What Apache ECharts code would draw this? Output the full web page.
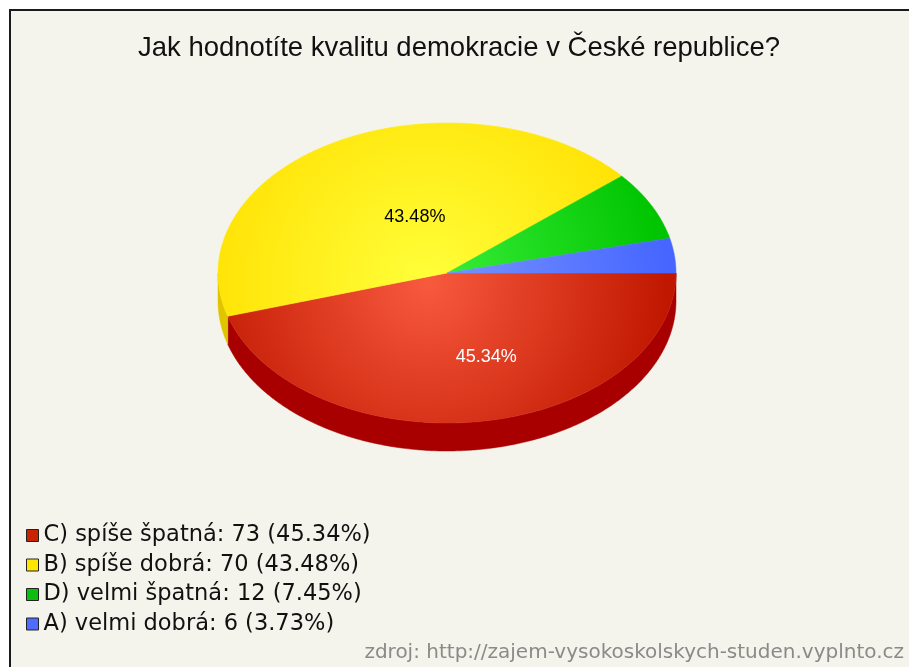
<!DOCTYPE html>
<html>
<head>
<meta charset="UTF-8">
<title>Jak hodnotíte kvalitu demokracie v České republice?</title>
<script src="https://cdn.jsdelivr.net/npm/echarts@6/dist/echarts.min.js"></script>
<style>
html, body { margin: 0; padding: 0; background: #fff; }
#chart { width: 909px; height: 667px; }
</style>
</head>
<body>
<div id="chart"></div>
<script>
// data
var categories = ['C) spíše špatná', 'B) spíše dobrá', 'D) velmi špatná', 'A) velmi dobrá'];
var counts = [73, 70, 12, 6];
var percents = ['45.34', '43.48', '7.45', '3.73'];

// colours: legend, top face (light, dark), side wall
var legendColors = ['#c82400', '#ffe600', '#0cbf0c', '#4f6cff'];
var topLight = ['#f85a3e', '#ffff3a', '#3cf03c', '#7a96ff'];
var topDark = ['#c01800', '#ffe000', '#00c400', '#4666ff'];
var sideColors = ['#a80000', '#e0c400', '#009400', '#2a40c8'];

var cx = 447, cy = 273, rx = 229, ry = 150, depth = 28;

var total = 0;
for (var i = 0; i < counts.length; i++) total += counts[i];

function rim(a, dy) {
    return [cx + rx * Math.cos(a), cy + ry * Math.sin(a) + (dy || 0)];
}

function arcPoints(a0, a1, dy) {
    var pts = [];
    var steps = Math.max(2, Math.ceil((a1 - a0) / 0.01));
    for (var k = 0; k <= steps; k++) {
        pts.push(rim(a0 + (a1 - a0) * k / steps, dy));
    }
    return pts;
}

function makeRender(idx) {
    return function (params, api) {
        var start = api.value(0), val = api.value(1);
        var a0 = start / total * Math.PI * 2;
        var a1 = (start + val) / total * Math.PI * 2;
        var children = [];

        // side wall, only the front half (0..PI) is visible
        var s0 = Math.max(a0, 0), s1 = Math.min(a1, Math.PI);
        if (s1 > s0) {
            var front = arcPoints(s0, s1, 0);
            var back = arcPoints(s0, s1, depth).reverse();
            children.push({
                type: 'polygon',
                shape: { points: front.concat(back) },
                style: { fill: sideColors[idx], stroke: sideColors[idx], lineWidth: 0.5 }
            });
        }

        var grad = new echarts.graphic.RadialGradient(cx - 20, cy + 10, rx * 1.05, [
            { offset: 0, color: topLight[idx] },
            { offset: 1, color: topDark[idx] }
        ], true);
        children.push({
            type: 'polygon',
            shape: { points: [[cx, cy]].concat(arcPoints(a0, a1, 0)) },
            style: { fill: grad, stroke: grad, lineWidth: 0.5 }
        });

        if (val / total > 0.1) {
            var mid = (a0 + a1) / 2;
            var p = [cx + rx * 0.5 * Math.cos(mid) - 8, cy + ry * 0.5 * Math.sin(mid) + 10];
            children.push({
                type: 'text',
                x: p[0], y: p[1],
                style: {
                    text: percents[idx] + '%',
                    fill: idx === 0 ? '#ffffff' : '#000000',
                    font: '18px "Liberation Sans"',
                    align: 'left',
                    verticalAlign: 'middle'
                }
            });
        }
        return { type: 'group', children: children };
    };
}

var series = [];
var cum = 0;
for (var j = 0; j < categories.length; j++) {
    series.push({
        name: categories[j],
        type: 'custom',
        coordinateSystem: 'none',
        silent: true,
        itemStyle: { color: legendColors[j] },
        data: [[cum, counts[j]]],
        renderItem: makeRender(j)
    });
    cum += counts[j];
}

var chart = echarts.init(document.getElementById('chart'));
var option = {
    backgroundColor: '#ffffff',
    animation: false,
    title: {
        text: 'Jak hodnotíte kvalitu demokracie v České republice?',
        left: 133,
        top: 29,
        textStyle: { fontFamily: 'Liberation Sans', fontSize: 27.5, fontWeight: 'normal', color: '#111' }
    },
    legend: {
        orient: 'vertical',
        left: 21,
        top: 519,
        itemGap: 6.5,
        itemWidth: 12,
        itemHeight: 12,
        icon: 'rect',
        selectedMode: false,
        data: categories.map(function (c, k) {
            return { name: c, itemStyle: { color: legendColors[k], borderColor: '#222', borderWidth: 1 } };
        }),
        formatter: function (name) {
            var k = categories.indexOf(name);
            return name + ': ' + counts[k] + ' (' + percents[k] + '%)';
        },
        textStyle: { fontFamily: 'DejaVu Sans', fontSize: 22.5, color: '#111' }
    },
    graphic: [
        {
            type: 'rect', z: -10,
            shape: { x: 10, y: 10, width: 950, height: 700 },
            style: { fill: '#f4f4ec', stroke: '#1a1a1a', lineWidth: 2 }
        },
        {
            type: 'text', right: 5, top: 643,
            style: {
                text: 'zdroj: http://zajem-vysokoskolskych-studen.vyplnto.cz',
                font: '20px "DejaVu Sans"',
                fill: '#8a8a8a'
            }
        }
    ],
    series: series
};
chart.setOption(option);
</script>
</body>
</html>
